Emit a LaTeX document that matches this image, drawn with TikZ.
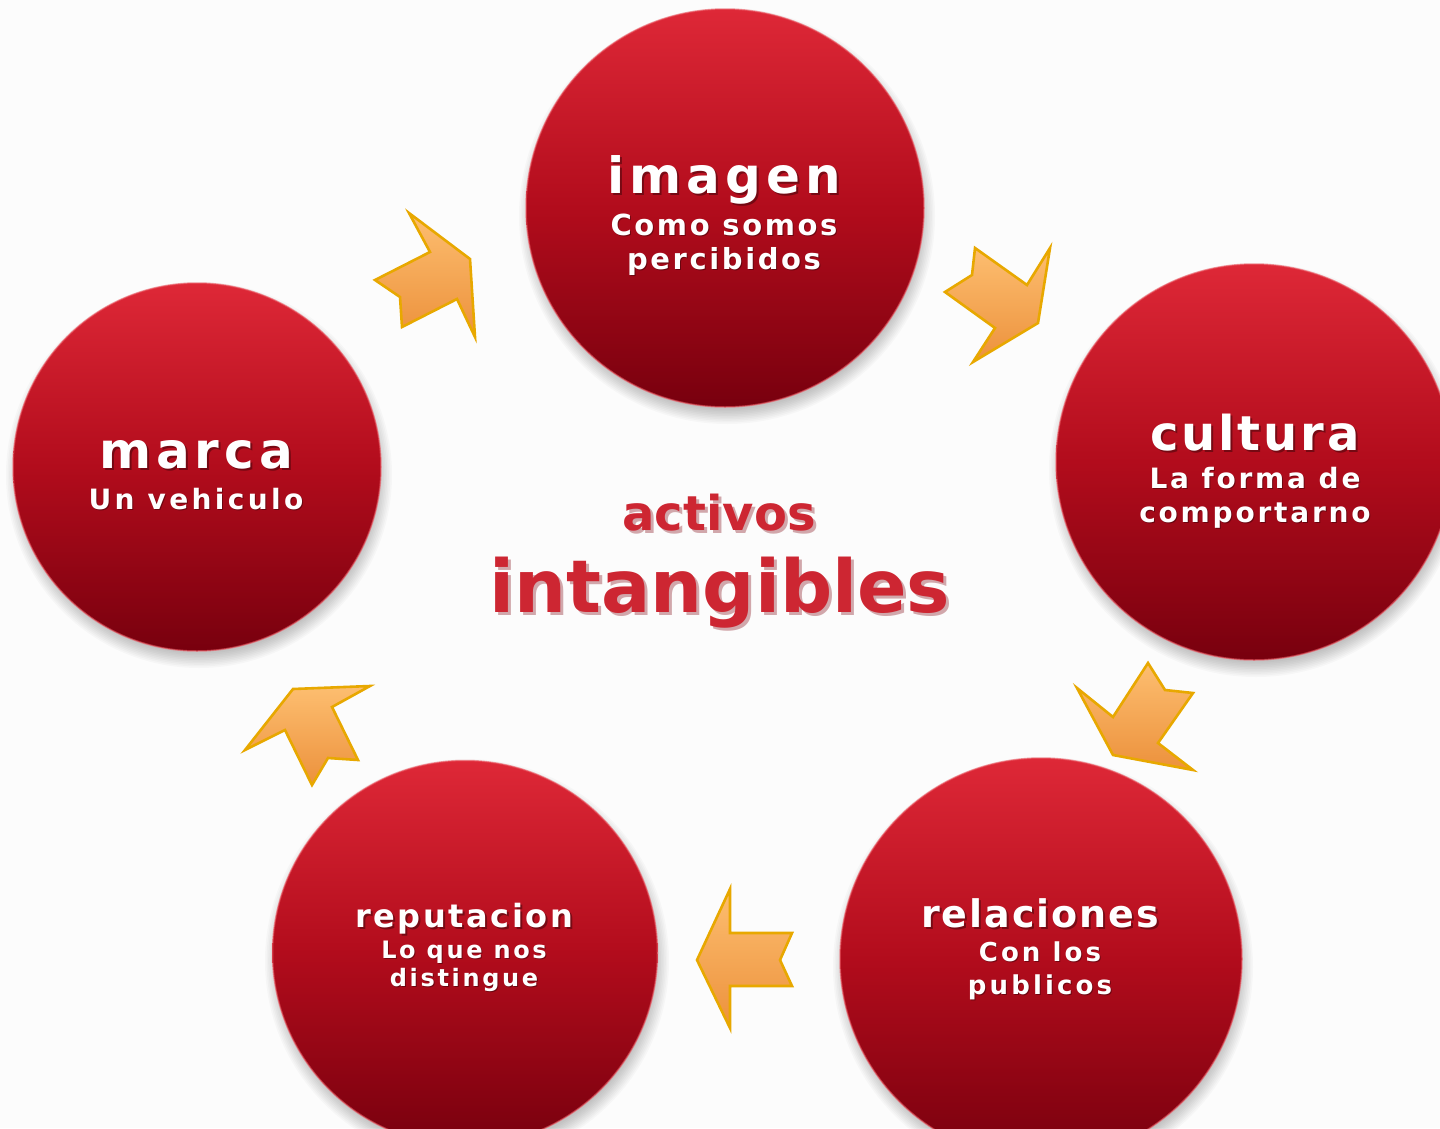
\documentclass[tikz,border=0pt]{standalone}
\usepackage{fontspec}
\setmainfont{DejaVu Sans}
\newcommand\txf[3]{{\fontspec[LetterSpace=#2]{DejaVu Sans}\bfseries\fontsize{#1}{#1}\selectfont #3}}
\definecolor{bgc}{RGB}{252,252,252}
\definecolor{redtop}{RGB}{222,40,55}
\definecolor{redmid}{RGB}{178,12,28}
\definecolor{redbot}{RGB}{120,0,14}
\definecolor{redrim}{RGB}{235,90,100}
\definecolor{arrlight}{RGB}{253,190,112}
\definecolor{arrdark}{RGB}{236,145,60}
\definecolor{arrgold}{RGB}{232,168,0}
\definecolor{ctrred}{RGB}{205,38,50}
\definecolor{ctrdark}{RGB}{130,10,20}
\tikzset{
  x=1pt, y=-1pt,
  disc/.style={circle, inner sep=0pt, top color=redtop, bottom color=redbot, middle color=redmid, draw=redrim, draw opacity=0.6, line width=1.5pt},
  wtxt/.style={text=white, anchor=base, inner sep=0pt},
  stxt/.style={text=black, text opacity=0.35, anchor=base, inner sep=0pt},
  blockarrow/.style={top color=arrlight, bottom color=arrdark, draw=arrgold, line width=2.6pt, line join=miter},
  ctxt/.style={text=ctrred, anchor=base, inner sep=0pt},
  cshadow/.style={text=ctrdark, text opacity=0.35, anchor=base, inner sep=0pt},
}
\newcommand\softshadow[3]{%
  \foreach \k in {1,...,10}{\fill[black, opacity=0.022] (#1,#2) circle[radius=#3+\k*1.6];}}
\begin{document}
\begin{tikzpicture}
\useasboundingbox (0,0) rectangle (1440,1128);
\clip (0,0) rectangle (1440,1128);
\fill[bgc] (0,0) rectangle (1440,1128);

% shadows
\softshadow{727}{216}{192}
\softshadow{1256}{470}{191}
\softshadow{199}{475}{177}
\softshadow{467}{961}{186}
\softshadow{1043}{967}{194}

% circles
\node[disc, minimum size=398pt] (imagen) at (725,208) {};
\node[disc, minimum size=396pt] (cultura) at (1254,462) {};
\node[disc, minimum size=368pt] (marca) at (197,467) {};
\node[disc, minimum size=385pt] (reputacion) at (465,953) {};
\node[disc, minimum size=402pt] (relaciones) at (1041,959) {};

% texts: imagen
\node[stxt] at (726,195) {\txf{50}{10}{imagen}};
\node[wtxt] (t1) at (724,193) {\txf{50}{10}{imagen}};
\node[stxt] at (725,236) {\txf{29}{9}{Como somos}};
\node[wtxt] (t1a) at (724,235) {\txf{29}{9}{Como somos}};
\node[stxt] at (725,270) {\txf{29}{9}{percibidos}};
\node[wtxt] (t1b) at (724,269) {\txf{29}{9}{percibidos}};
% marca
\node[stxt] at (198,470) {\txf{50}{10}{marca}};
\node[wtxt] (t2) at (196,468) {\txf{50}{10}{marca}};
\node[stxt] at (197,510) {\txf{28}{12}{Un vehiculo}};
\node[wtxt] (t2a) at (196,509) {\txf{28}{12}{Un vehiculo}};
% cultura
\node[stxt] at (1257,452) {\txf{48}{6}{cultura}};
\node[wtxt] (t3) at (1255,450) {\txf{48}{6}{cultura}};
\node[stxt] at (1256,489) {\txf{28}{10}{La forma de}};
\node[wtxt] (t3a) at (1255,488) {\txf{28}{10}{La forma de}};
\node[stxt] at (1256,523) {\txf{28}{10}{comportarno}};
\node[wtxt] (t3b) at (1255,522) {\txf{28}{10}{comportarno}};
% relaciones
\node[stxt] at (1042,929) {\txf{38}{5}{relaciones}};
\node[wtxt] (t4) at (1040,927) {\txf{38}{5}{relaciones}};
\node[stxt] at (1041,962) {\txf{26}{12}{Con los}};
\node[wtxt] (t4a) at (1040,961) {\txf{26}{12}{Con los}};
\node[stxt] at (1041,995) {\txf{26}{12}{publicos}};
\node[wtxt] (t4b) at (1040,994) {\txf{26}{12}{publicos}};
% reputacion
\node[stxt] at (466,929) {\txf{32}{8}{reputacion}};
\node[wtxt] (t5) at (464,927) {\txf{32}{8}{reputacion}};
\node[stxt] at (465,959) {\txf{24}{11}{Lo que nos}};
\node[wtxt] (t5a) at (464,958) {\txf{24}{11}{Lo que nos}};
\node[stxt] at (465,987) {\txf{24}{11}{distingue}};
\node[wtxt] (t5b) at (464,986) {\txf{24}{11}{distingue}};

% center title
\node[cshadow] at (722,533) {\txf{48}{0}{activos}};
\node[ctxt] (ca) at (719,530) {\txf{48}{0}{activos}};
\node[cshadow] at (723,615) {\txf{73}{0}{intangibles}};
\node[ctxt] (ci) at (720,612) {\txf{73}{0}{intangibles}};

% arrows
\draw[blockarrow] (409,213) -- (470,259) -- (475,337) -- (457,299) -- (402,327) -- (400,297) -- (375,280) -- (430,252) -- cycle;
\draw[blockarrow] (975,248) -- (1027,285) -- (1050,248) -- (1038,323) -- (973,362) -- (995,328) -- (945,292) -- (972,275) -- cycle;
\draw[blockarrow] (1148,663) -- (1165,690) -- (1193,693) -- (1158,743) -- (1193,770) -- (1113,755) -- (1077,688) -- (1113,717) -- cycle;
\draw[blockarrow] (697,960) -- (730,889) -- (730,933) -- (792,933) -- (780,960) -- (792,986) -- (730,986) -- (730,1028) -- cycle;
\draw[blockarrow] (293,689) -- (370,686) -- (332,707) -- (358,760) -- (328,758) -- (312,785) -- (285,730) -- (245,750) -- cycle;
\end{tikzpicture}
\end{document}
